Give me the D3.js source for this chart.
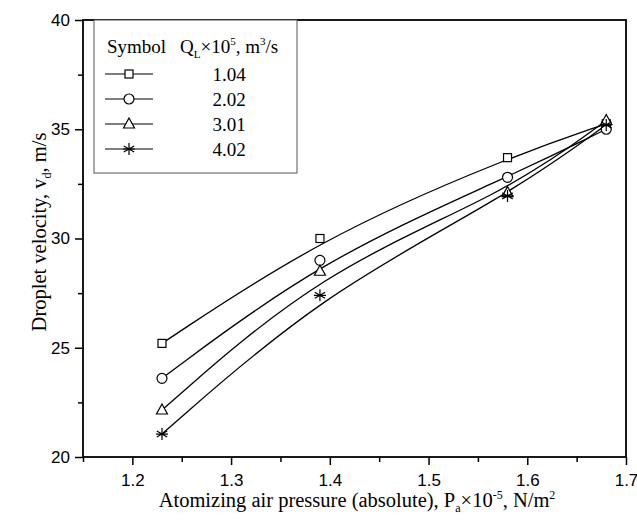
<!DOCTYPE html>
<html>
<head>
<meta charset="utf-8">
<script src="https://cdn.jsdelivr.net/npm/d3@7"></script>
<style>
  body { margin: 0; background: #fff; }
  text { fill: #000; }
</style>
</head>
<body>
<div id="chart-area"></div>
<script>
// data
const pressure = [1.23, 1.39, 1.58, 1.68];
const flowRates = ["1.04", "2.02", "3.01", "4.02"];
const symbols = ["square", "circle", "triangle", "star"];
const velQ104 = [25.2, 30.0, 33.7, 35.25];
const velQ202 = [23.6, 29.0, 32.8, 35.0];
const velQ301 = [22.15, 28.5, 32.1, 35.4];
const velQ402 = [21.05, 27.4, 31.95, 35.2];
const xTicks = [1.2, 1.3, 1.4, 1.5, 1.6, 1.7];
const yTicks = [20, 25, 30, 35, 40];

const series = [velQ104, velQ202, velQ301, velQ402];

const margin = { left: 83, right: 11, top: 20, bottom: 64 };
const full_width = 637, full_height = 521;
const width = full_width - margin.left - margin.right, height = full_height - margin.top - margin.bottom;

const svg = d3.select("#chart-area").append("svg").attr("width", full_width).attr("height", full_height);
const g = svg.append("g").attr("transform", "translate(" + margin.left + ", " + margin.top + ")");

const x = d3.scaleLinear().domain([1.15, 1.7]).range([0, width]);
const y = d3.scaleLinear().domain([20, 40]).range([height, 0]);

// minor ticks
const xMinor = [1.15, 1.25, 1.35, 1.45, 1.55, 1.65];
const yMinor = [22.5, 27.5, 32.5, 37.5];

const tickFont = "'Liberation Sans', Arial, sans-serif";
const serif = "'Liberation Serif', 'Times New Roman', serif";

g.append("g")
    .attr("transform", "translate(0, " + height + ")")
    .call(d3.axisBottom(x).tickValues(xMinor).tickSize(5).tickFormat(""))
    .call(a => a.select(".domain").remove());
g.append("g")
    .call(d3.axisLeft(y).tickValues(yMinor).tickSize(5).tickFormat(""))
    .call(a => a.select(".domain").remove());

const xAxis = g.append("g")
    .attr("transform", "translate(0, " + height + ")")
    .call(d3.axisBottom(x).tickValues(xTicks).tickSize(8).tickPadding(9).tickFormat(d3.format(".1f")));
xAxis.select(".domain").remove();
xAxis.selectAll("text").attr("font-family", tickFont).attr("font-size", "17px");

const yAxis = g.append("g")
    .call(d3.axisLeft(y).tickValues(yTicks).tickSize(8).tickPadding(5).tickFormat(d => d));
yAxis.select(".domain").remove();
yAxis.selectAll("text").attr("font-family", tickFont).attr("font-size", "17px");

g.selectAll(".tick line").attr("stroke-width", 1.5);

// frame
g.append("rect")
    .attr("width", width).attr("height", height)
    .attr("fill", "none").attr("stroke", "#000").attr("stroke-width", 1.8);

// smoothed B-spline curves
const line = d3.line()
    .x((d, i) => x(pressure[i]))
    .y(d => y(d))
    .curve(d3.curveBasis);

g.selectAll(".curve").data(series).enter()
    .append("path")
    .attr("class", "curve")
    .attr("d", line)
    .attr("fill", "none")
    .attr("stroke", "#000")
    .attr("stroke-width", 1.3);

function drawSymbol(sel, type) {
    if (type === "square") {
        sel.append("rect").attr("x", -4).attr("y", -4).attr("width", 8).attr("height", 8)
            .attr("fill", "#fff").attr("stroke", "#000").attr("stroke-width", 1.2);
    } else if (type === "circle") {
        sel.append("circle").attr("r", 5)
            .attr("fill", "#fff").attr("stroke", "#000").attr("stroke-width", 1.2);
    } else if (type === "triangle") {
        sel.append("path").attr("d", "M0,-6L5.5,4L-5.5,4Z")
            .attr("fill", "#fff").attr("stroke", "#000").attr("stroke-width", 1.2);
    } else {
        const r = 6;
        const p = [];
        [90, 30, 150].forEach(a => {
            const t = a * Math.PI / 180;
            p.push("M" + (r * Math.cos(t)) + "," + (-r * Math.sin(t)) + "L" + (-r * Math.cos(t)) + "," + (r * Math.sin(t)));
        });
        p.push("M-6,0L6,0");
        sel.append("path").attr("d", p.join("")).attr("stroke", "#000").attr("stroke-width", 1.2);
    }
}

series.forEach((s, k) => {
    s.forEach((v, i) => {
        const m = g.append("g").attr("transform", "translate(" + x(pressure[i]) + "," + y(v) + ")");
        drawSymbol(m, symbols[k]);
    });
});

// legend
const leg = svg.append("g").attr("transform", "translate(94, 20)");
leg.append("rect").attr("width", 203).attr("height", 153)
    .attr("fill", "#fff").attr("stroke", "#555").attr("stroke-width", 1);

leg.append("text").attr("x", 13).attr("y", 33)
    .attr("font-family", serif).attr("font-size", "19px").text("Symbol");
const head = leg.append("text").attr("x", 86).attr("y", 33)
    .attr("font-family", serif).attr("font-size", "19px");
head.append("tspan").text("Q");
head.append("tspan").attr("font-size", "11px").attr("dy", 5).text("L");
head.append("tspan").attr("dy", -5).text("×10");
head.append("tspan").attr("font-size", "11px").attr("dy", -8).text("5");
head.append("tspan").attr("dy", 8).text(", m");
head.append("tspan").attr("font-size", "11px").attr("dy", -8).text("3");
head.append("tspan").attr("dy", 8).text("/s");

flowRates.forEach((q, k) => {
    const row = leg.append("g").attr("transform", "translate(0," + (54 + k * 25) + ")");
    row.append("line").attr("x1", 11).attr("x2", 59).attr("stroke", "#000").attr("stroke-width", 1.1);
    drawSymbol(row.append("g").attr("transform", "translate(35,0)"), symbols[k]);
    row.append("text").attr("x", 135).attr("y", 7).attr("text-anchor", "middle")
        .attr("font-family", serif).attr("font-size", "19px").text(q);
});

// x label
const xl = svg.append("text")
    .attr("x", 357).attr("y", 507)
    .attr("text-anchor", "middle")
    .attr("font-family", serif).attr("font-size", "20.5px");
xl.append("tspan").text("Atomizing air pressure (absolute), P");
xl.append("tspan").attr("font-size", "12px").attr("dy", 5).text("a");
xl.append("tspan").attr("dy", -5).text("×10");
xl.append("tspan").attr("font-size", "12px").attr("dy", -8).text("-5");
xl.append("tspan").attr("dy", 8).text(", N/m");
xl.append("tspan").attr("font-size", "12px").attr("dy", -8).text("2");

// y label
const yl = svg.append("text")
    .attr("transform", "translate(46, 232) rotate(-90)")
    .attr("text-anchor", "middle")
    .attr("font-family", serif).attr("font-size", "20.5px");
yl.append("tspan").text("Droplet velocity, v");
yl.append("tspan").attr("font-size", "12px").attr("dy", 5).text("d");
yl.append("tspan").attr("dy", -5).text(", m/s");
</script>
</body>
</html>
